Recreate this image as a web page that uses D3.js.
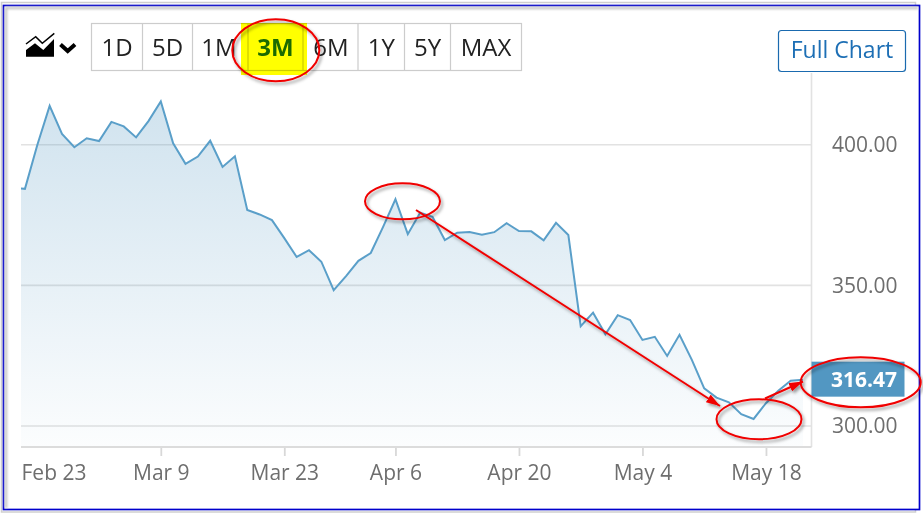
<!DOCTYPE html>
<html>
<head>
<meta charset="utf-8">
<script src="https://cdn.jsdelivr.net/npm/d3@7"></script>
<style>
body { margin: 0; background: #fff; }
svg { display: block; }
text { font-family: "Open Sans", sans-serif; }
</style>
</head>
<body>
<script>
const dates = ['Feb 19', 'Feb 20', 'Feb 23', 'Feb 24', 'Feb 25', 'Feb 26', 'Feb 27',
    'Mar 2', 'Mar 3', 'Mar 4', 'Mar 5', 'Mar 6', 'Mar 9', 'Mar 10', 'Mar 11', 'Mar 12', 'Mar 13',
    'Mar 16', 'Mar 17', 'Mar 18', 'Mar 19', 'Mar 20', 'Mar 23', 'Mar 24', 'Mar 25', 'Mar 26', 'Mar 27',
    'Mar 30', 'Mar 31', 'Apr 1', 'Apr 2', 'Apr 6', 'Apr 7', 'Apr 8', 'Apr 9', 'Apr 10',
    'Apr 13', 'Apr 14', 'Apr 15', 'Apr 16', 'Apr 17', 'Apr 20', 'Apr 21', 'Apr 22', 'Apr 23', 'Apr 24',
    'Apr 27', 'Apr 28', 'Apr 29', 'Apr 30', 'May 1', 'May 4', 'May 5', 'May 6', 'May 7', 'May 8',
    'May 11', 'May 12', 'May 13', 'May 14', 'May 15', 'May 18', 'May 19', 'May 20', 'May 21'];

const prices = [384.6, 384.3, 399.9, 413.8, 403.8, 399.1, 402.3,
    401.3, 408.1, 406.5, 402.6, 408.4, 415.4, 400.5, 393.2, 395.8, 401.4,
    392.1, 395.9, 376.8, 375.2, 373.2, 366.8, 360.1, 362.5, 358.4, 348.3,
    353.3, 358.7, 361.5, 370.8, 380.6, 368.2, 375.8, 374.4, 366.1,
    368.7, 369.0, 368.0, 368.9, 372.1, 369.3, 369.2, 366.0, 372.2, 367.9,
    335.5, 340.3, 332.6, 339.4, 337.7, 330.6, 331.7, 324.9, 332.4, 323.5,
    313.4, 310.1, 308.4, 304.2, 302.5, 308.1, 312.5, 316.1, 316.47];

const xTicks = ['Feb 23', 'Mar 9', 'Mar 23', 'Apr 6', 'Apr 20', 'May 4', 'May 18'];
const yTicks = [300, 350, 400];
const ranges = ['1D', '5D', '1M', '3M', '6M', '1Y', '5Y', 'MAX'];
const lastPrice = prices[prices.length - 1];

const data = dates.map(function(d, i) {
    return { date: d, price: prices[i] };
});

const width = 923, height = 514;
const plotLeft = 21, plotRight = 811.5, plotTop = 73, plotBottom = 447;
const gridColor = '#e2e2e2', lineColor = '#5a9fc9', labelColor = '#6e6e6e', red = '#f00000';

const svg = d3.select('body')
    .append('svg')
    .attr('width', width)
    .attr('height', height);

const defs = svg.append('defs');

defs.append('clipPath')
    .attr('id', 'plot-clip')
    .append('rect')
    .attr('x', plotLeft)
    .attr('y', plotTop)
    .attr('width', plotRight - plotLeft)
    .attr('height', plotBottom - plotTop);

const gradient = defs.append('linearGradient')
    .attr('id', 'area-fill')
    .attr('x1', 0).attr('x2', 0).attr('y1', 0).attr('y2', 1);
gradient.append('stop').attr('offset', '0%').attr('stop-color', '#5297c2').attr('stop-opacity', 0.27);
gradient.append('stop').attr('offset', '100%').attr('stop-color', '#5297c2').attr('stop-opacity', 0.02);

defs.append('filter')
    .attr('id', 'shadow')
    .attr('x', '-20%').attr('y', '-30%').attr('width', '140%').attr('height', '170%')
    .append('feDropShadow')
    .attr('dx', 2).attr('dy', 2.5).attr('stdDeviation', 1.6)
    .attr('flood-color', '#000').attr('flood-opacity', 0.38);

defs.append('filter')
    .attr('id', 'soft')
    .append('feGaussianBlur')
    .attr('stdDeviation', 1.2);

defs.append('marker')
    .attr('id', 'arrow-head')
    .attr('viewBox', '0 0 14 9')
    .attr('refX', 14).attr('refY', 4.5)
    .attr('markerWidth', 14).attr('markerHeight', 9)
    .attr('markerUnits', 'userSpaceOnUse')
    .attr('orient', 'auto')
    .append('path')
    .attr('d', 'M0,0L14,4.5L0,9Z')
    .attr('fill', red);

// picture frame
svg.append('rect')
    .attr('x', 1.5).attr('y', 2.5)
    .attr('width', 914).attr('height', 509.5)
    .attr('fill', 'none')
    .attr('stroke', '#cfcfcf')
    .attr('stroke-width', 1.5);
svg.append('rect')
    .attr('x', 3.5).attr('y', 5.5)
    .attr('width', 916).attr('height', 504)
    .attr('fill', '#fff')
    .attr('stroke', '#0000cc')
    .attr('stroke-width', 1.7);
svg.append('path')
    .attr('d', 'M6,508V8H918')
    .attr('fill', 'none')
    .attr('stroke', '#c4c4c4')
    .attr('stroke-width', 2.5)
    .attr('filter', 'url(#soft)');

const xScale = d3.scalePoint()
    .domain(dates)
    .range([12.6, 803]);

const yScale = d3.scaleLinear()
    .domain([300, 400])
    .range([426, 144.7]);

// grid
svg.append('g')
    .selectAll('line')
    .data(yTicks)
    .enter()
    .append('line')
    .attr('x1', plotLeft)
    .attr('x2', plotRight)
    .attr('y1', function(d) { return yScale(d); })
    .attr('y2', function(d) { return yScale(d); })
    .attr('stroke', gridColor)
    .attr('stroke-width', 1.6);

svg.append('line')
    .attr('x1', plotRight).attr('x2', plotRight)
    .attr('y1', plotTop).attr('y2', plotBottom)
    .attr('stroke', gridColor)
    .attr('stroke-width', 1.6);

// price area and line
const area = d3.area()
    .x(function(d) { return xScale(d.date); })
    .y0(plotBottom)
    .y1(function(d) { return yScale(d.price); });

const line = d3.line()
    .x(function(d) { return xScale(d.date); })
    .y(function(d) { return yScale(d.price); });

const series = svg.append('g').attr('clip-path', 'url(#plot-clip)');

series.append('path')
    .datum(data)
    .attr('d', area)
    .attr('fill', 'url(#area-fill)');

series.append('path')
    .datum(data)
    .attr('d', line)
    .attr('fill', 'none')
    .attr('stroke', lineColor)
    .attr('stroke-width', 2)
    .attr('stroke-linejoin', 'miter');

// axes
const xAxis = d3.axisBottom(xScale)
    .tickValues(xTicks)
    .tickSize(9)
    .tickPadding(9)
    .tickSizeOuter(0);

const xAxisG = svg.append('g')
    .attr('class', 'x axis')
    .attr('transform', 'translate(0,' + plotBottom + ')')
    .call(xAxis);

xAxisG.select('.domain').remove();
xAxisG.append('line')
    .attr('x1', plotLeft).attr('x2', plotRight)
    .attr('stroke', '#dcdcdc')
    .attr('stroke-width', 1.8);
xAxisG.selectAll('.tick line')
    .attr('stroke', '#d8d8d8')
    .attr('stroke-width', 1.8);
xAxisG.selectAll('.tick text')
    .attr('fill', labelColor)
    .style('font-size', '21px');

// first label sits against the plot edge and has no tick
const firstTick = xAxisG.selectAll('.tick').filter(function(d) { return d === xTicks[0]; });
firstTick.select('line').remove();
firstTick.select('text')
    .attr('text-anchor', 'start')
    .attr('x', plotLeft - xScale(xTicks[0]));

const yAxis = d3.axisRight(yScale)
    .tickValues(yTicks)
    .tickSize(0)
    .tickPadding(0)
    .tickFormat(d3.format('.2f'));

const yAxisG = svg.append('g')
    .attr('class', 'y axis')
    .attr('transform', 'translate(832,0)')
    .call(yAxis);

yAxisG.select('.domain').remove();
yAxisG.selectAll('text')
    .attr('fill', labelColor)
    .style('font-size', '21px');

// last price flag
const flagY = yScale(lastPrice);
svg.append('rect')
    .attr('x', plotRight)
    .attr('y', flagY - 18)
    .attr('width', 93)
    .attr('height', 35)
    .attr('fill', '#5297c2');
svg.append('text')
    .attr('x', 897)
    .attr('y', flagY)
    .attr('dy', '0.36em')
    .attr('text-anchor', 'end')
    .attr('fill', '#fff')
    .attr('font-weight', 700)
    .style('font-size', '21px')
    .text(d3.format('.2f')(lastPrice));

// range buttons
const cellEdges = [91.5, 142.5, 192.5, 248, 303, 358, 404.5, 450.5, 521.5];
const rangeG = svg.append('g');

rangeG.append('rect')
    .attr('x', cellEdges[0]).attr('y', 23.5)
    .attr('width', cellEdges[8] - cellEdges[0]).attr('height', 47)
    .attr('fill', 'none')
    .attr('stroke', '#cccccc')
    .attr('stroke-width', 1.2);

rangeG.selectAll('line')
    .data(cellEdges.slice(1, -1))
    .enter()
    .append('line')
    .attr('x1', function(d) { return d; })
    .attr('x2', function(d) { return d; })
    .attr('y1', 23.5).attr('y2', 70.5)
    .attr('stroke', '#cccccc')
    .attr('stroke-width', 1.2);

rangeG.append('rect')
    .attr('x', 241).attr('y', 23)
    .attr('width', 66).attr('height', 52)
    .attr('fill', '#ffff00')
    .style('mix-blend-mode', 'multiply');

rangeG.selectAll('text')
    .data(ranges)
    .enter()
    .append('text')
    .attr('x', function(d, i) {
        return d === '1M' ? 219 : d === '6M' ? 331 : (cellEdges[i] + cellEdges[i + 1]) / 2;
    })
    .attr('y', 56)
    .attr('text-anchor', 'middle')
    .attr('fill', function(d) { return d === '3M' ? '#1b6a00' : '#222'; })
    .attr('font-weight', function(d) { return d === '3M' ? 700 : 400; })
    .style('font-size', '24px')
    .text(function(d) { return d; });

// chart type icon
const icon = svg.append('g');
icon.append('path')
    .attr('d', 'M26,56.7V50L35,43.3L43.3,50L54,39V56.7Z')
    .attr('fill', '#000');
icon.append('path')
    .attr('d', 'M26,44L35.7,36.7L42.3,43.3L54.3,33.3')
    .attr('fill', 'none')
    .attr('stroke', '#000')
    .attr('stroke-width', 1.5);
icon.append('path')
    .attr('d', 'M60.5,44.5L67.7,51L75,44.5')
    .attr('fill', 'none')
    .attr('stroke', '#000')
    .attr('stroke-width', 4);

// full chart button
svg.append('rect')
    .attr('x', 778.5).attr('y', 30.5)
    .attr('width', 127).attr('height', 41)
    .attr('rx', 3)
    .attr('fill', '#fff')
    .attr('stroke', '#1a6aaf')
    .attr('stroke-width', 1.2);
svg.append('text')
    .attr('x', 842)
    .attr('y', 58)
    .attr('text-anchor', 'middle')
    .attr('fill', '#1d6fb5')
    .style('font-size', '23px')
    .text('Full Chart');

// hand drawn annotations
const notes = svg.append('g').attr('filter', 'url(#shadow)');

notes.selectAll('ellipse')
    .data(['3M', 'Apr 6', 'May 15', 'last'])
    .enter()
    .append('ellipse')
    .attr('cx', function(d) { return { '3M': 275.8, 'Apr 6': 402.5, 'May 15': 759, 'last': 860.7 }[d]; })
    .attr('cy', function(d) { return { '3M': 50.3, 'Apr 6': 201.3, 'May 15': 419.3, 'last': 382.3 }[d]; })
    .attr('rx', function(d) { return { '3M': 43.5, 'Apr 6': 37.5, 'May 15': 42.5, 'last': 60 }[d]; })
    .attr('ry', function(d) { return { '3M': 31, 'Apr 6': 18, 'May 15': 20, 'last': 25 }[d]; })
    .attr('fill', 'none')
    .attr('stroke', red)
    .attr('stroke-width', 2);

notes.append('line')
    .attr('x1', 416).attr('y1', 210)
    .attr('x2', 720).attr('y2', 406)
    .attr('stroke', red)
    .attr('stroke-width', 2)
    .attr('marker-end', 'url(#arrow-head)');

notes.append('line')
    .attr('x1', 765).attr('y1', 398.5)
    .attr('x2', 803).attr('y2', 381.5)
    .attr('stroke', red)
    .attr('stroke-width', 2)
    .attr('marker-end', 'url(#arrow-head)');
</script>
</body>
</html>
